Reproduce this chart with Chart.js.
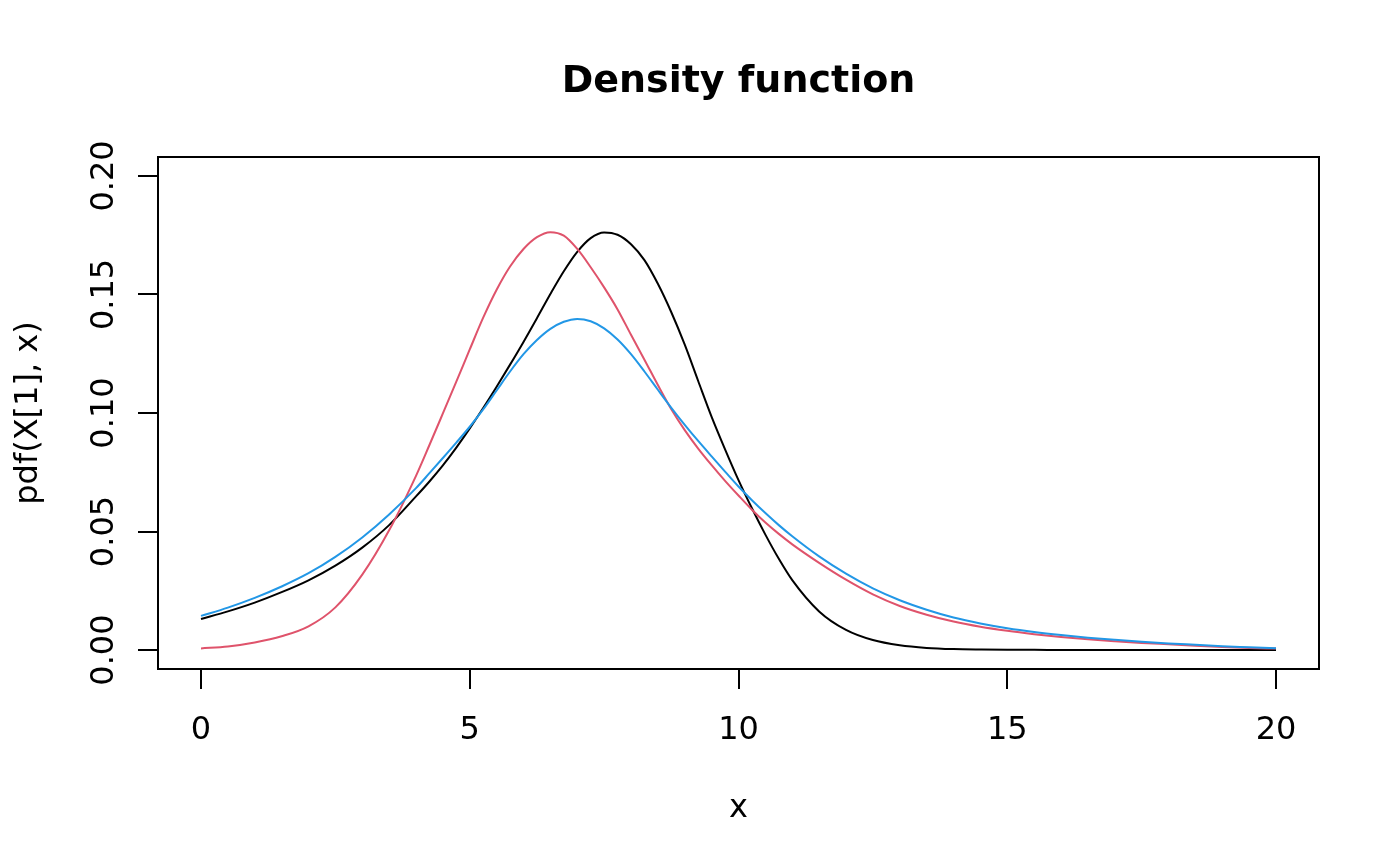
<!DOCTYPE html>
<html lang="en">
<head>
  <meta charset="UTF-8">
  <title>Density function</title>
  <script src="https://cdn.jsdelivr.net/npm/chart.js"></script>
  <style>
    html, body {
      margin: 0;
      padding: 0;
      background: #ffffff;
    }
    .chart-wrapper {
      width: 1400px;
      height: 866px;
    }
  </style>
</head>
<body>
  <div class="chart-wrapper">
    <canvas id="densityChart"></canvas>
  </div>
  <script>
    // x positions the curves were read at (finer steps around the peaks)
    const xs = [0, 0.5, 1, 1.5, 2, 2.5, 3, 3.5,
      4, 4.25, 4.5, 4.75, 5, 5.25, 5.5, 5.75, 6, 6.25, 6.5, 6.75, 7, 7.25, 7.5, 7.75,
      8, 8.25, 8.5, 8.75, 9, 9.25, 9.5, 9.75, 10, 10.25, 10.5, 10.75, 11,
      11.5, 12, 12.5, 13, 13.5, 14, 14.5, 15, 15.5, 16, 16.5, 17, 17.5, 18, 18.5, 19, 19.5, 20];

    const blackY = [0.0131, 0.0163, 0.0200, 0.0244, 0.0294, 0.0356, 0.0432, 0.0527,
      0.0648, 0.0711, 0.0779, 0.0854, 0.0935, 0.1021, 0.1111, 0.1204, 0.1300, 0.1400, 0.1502, 0.1598, 0.1680, 0.1738, 0.1762, 0.1752,
      0.1712, 0.1645, 0.1545, 0.1425, 0.1288, 0.1135, 0.0984, 0.0847, 0.0717, 0.0598, 0.0487, 0.0385, 0.0295,
      0.0163, 0.0085, 0.0042, 0.0020, 0.0009, 0.0004, 0.0002, 0.0001, 0.0001, 0, 0, 0, 0, 0, 0, 0, 0, 0];

    const redY = [0.0007, 0.0015, 0.0032, 0.0058, 0.0100, 0.0180, 0.0318, 0.0505,
      0.0735, 0.0865, 0.0998, 0.1132, 0.1268, 0.1402, 0.1520, 0.1618, 0.1692, 0.1742, 0.1763, 0.1748, 0.1692, 0.1615, 0.1530, 0.1437,
      0.1330, 0.1225, 0.1118, 0.1016, 0.0928, 0.0850, 0.0780, 0.0714, 0.0652, 0.0592, 0.0538, 0.0490, 0.0446,
      0.0368, 0.0297, 0.0235, 0.0186, 0.0149, 0.0120, 0.0098, 0.0081, 0.0067, 0.0055, 0.0045, 0.0037, 0.0030, 0.0024, 0.0018, 0.0013, 0.0009, 0.0006];

    const blueY = [0.0144, 0.0179, 0.0220, 0.0268, 0.0324, 0.0393, 0.0475, 0.0572,
      0.0683, 0.0746, 0.0810, 0.0875, 0.0942, 0.1015, 0.1095, 0.1175, 0.1248, 0.1308, 0.1355, 0.1385, 0.1397, 0.1387, 0.1357, 0.1310,
      0.1248, 0.1175, 0.1098, 0.1022, 0.0950, 0.0882, 0.0817, 0.0753, 0.0690, 0.0632, 0.0578, 0.0527, 0.0480,
      0.0395, 0.0322, 0.0260, 0.0210, 0.0170, 0.0137, 0.0112, 0.0092, 0.0076, 0.0063, 0.0052, 0.0043, 0.0035, 0.0028, 0.0022, 0.0016, 0.0012, 0.0008];

    const xTicks = [0, 5, 10, 15, 20];
    const yTicks = [0, 0.05, 0.10, 0.15, 0.20];
    const yTickLabels = ['0.00', '0.05', '0.10', '0.15', '0.20'];

    const FONT = '"DejaVu Sans", "Liberation Sans", sans-serif';

    function toPoints(ys) {
      return xs.map((x, i) => ({ x: x, y: ys[i] }));
    }

    // base-graphics look: box, outside ticks, rotated y labels, titles
    const baseAxes = {
      id: 'baseAxes',
      afterDraw(chart) {
        const { ctx, chartArea: a, scales: { x, y } } = chart;
        const tick = 20;
        ctx.save();
        ctx.strokeStyle = '#000';
        ctx.fillStyle = '#000';
        ctx.lineWidth = 2;
        ctx.strokeRect(a.left, a.top, a.right - a.left, a.bottom - a.top);

        ctx.beginPath();
        xTicks.forEach(v => {
          const px = Math.round(x.getPixelForValue(v));
          ctx.moveTo(px, a.bottom);
          ctx.lineTo(px, a.bottom + tick);
        });
        yTicks.forEach(v => {
          const py = Math.round(y.getPixelForValue(v));
          ctx.moveTo(a.left, py);
          ctx.lineTo(a.left - tick, py);
        });
        ctx.stroke();

        ctx.font = '32px ' + FONT;
        ctx.textAlign = 'center';
        ctx.textBaseline = 'alphabetic';
        xTicks.forEach(v => {
          ctx.fillText(String(v), x.getPixelForValue(v), a.bottom + 70);
        });
        ctx.fillText('x', (a.left + a.right) / 2, a.bottom + 148);

        yTicks.forEach((v, i) => {
          ctx.save();
          ctx.translate(113, y.getPixelForValue(v));
          ctx.rotate(-Math.PI / 2);
          ctx.fillText(yTickLabels[i], 0, 0);
          ctx.restore();
        });

        ctx.save();
        ctx.translate(37, (a.top + a.bottom) / 2);
        ctx.rotate(-Math.PI / 2);
        ctx.fillText('pdf(X[1], x)', 0, 0);
        ctx.restore();

        ctx.font = 'bold 38px ' + FONT;
        ctx.fillText('Density function', (a.left + a.right) / 2, a.top - 65);
        ctx.restore();
      }
    };

    new Chart(document.getElementById('densityChart'), {
      type: 'line',
      data: {
        datasets: [
          {
            label: 'X[1]',
            data: toPoints(blackY),
            borderColor: '#000000',
            order: 2
          },
          {
            label: 'X[2]',
            data: toPoints(redY),
            borderColor: '#DF536B',
            order: 1
          },
          {
            label: 'X[3]',
            data: toPoints(blueY),
            borderColor: '#2297E6',
            order: 0
          }
        ]
      },
      options: {
        responsive: true,
        maintainAspectRatio: false,
        animation: false,
        layout: {
          padding: { top: 157, right: 81, left: 0, bottom: 0 }
        },
        elements: {
          point: { radius: 0 },
          line: { borderWidth: 2, fill: false, cubicInterpolationMode: 'monotone' }
        },
        plugins: {
          legend: { display: false },
          tooltip: { enabled: false },
          title: { display: false }
        },
        scales: {
          x: {
            type: 'linear',
            min: -0.8,
            max: 20.8,
            grid: { display: false },
            border: { display: false },
            ticks: { display: false },
            afterBuildTicks: axis => { axis.ticks = xTicks.map(v => ({ value: v })); },
            afterFit: axis => { axis.height = 197; }
          },
          y: {
            type: 'linear',
            min: -0.008,
            max: 0.208,
            grid: { display: false },
            border: { display: false },
            ticks: { display: false },
            afterBuildTicks: axis => { axis.ticks = yTicks.map(v => ({ value: v })); },
            afterFit: axis => { axis.width = 158; }
          }
        }
      },
      plugins: [baseAxes]
    });
  </script>
</body>
</html>
